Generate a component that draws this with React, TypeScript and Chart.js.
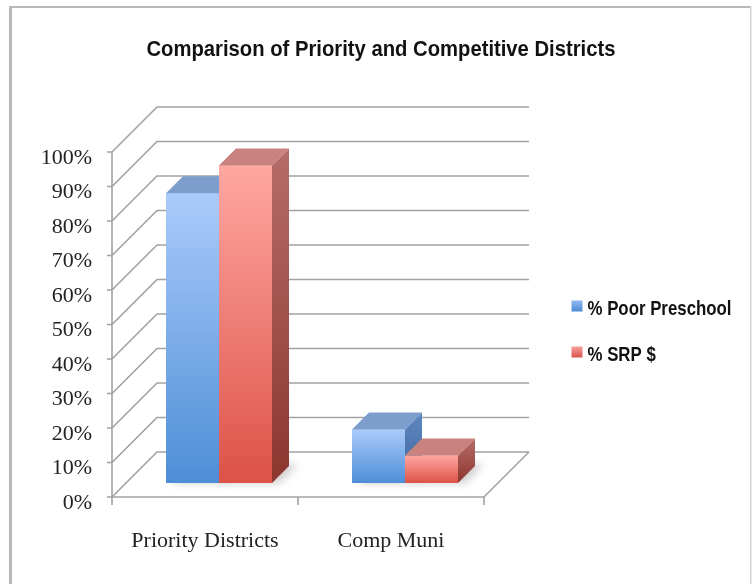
import React, { useEffect, useRef } from "react";
import { Chart, registerables } from "chart.js";

Chart.register(...registerables);

// ---------- data ----------
const TITLE = "Comparison of Priority and Competitive Districts";
const CATEGORIES = ["Priority Districts", "Comp Muni"];
const SERIES_NAMES = ["% Poor Preschool", "% SRP $"];
const POOR_PRESCHOOL = [84, 15.5];
const SRP_DOLLARS = [92, 8];
const Y_MIN = 0;
const Y_MAX = 100;
const Y_STEP = 10;

// ---------- layout / style ----------
const W = 752;
const H = 584;
const AREA = { left: 126, right: 498, top: 138, bottom: 483 };
const FRONT = 14; // depth from the front (axis) plane to the bars' front plane
const BACK = 31; // depth from the bars' front plane to the back wall
const BAR_DEPTH = 17;
const SERIF = "'Liberation Serif', 'Times New Roman', serif";
const SANS = "'Liberation Sans', Arial, sans-serif";

const PALETTE = [
  { front: ["#aacbfa", "#4e8ed7"], top: "#7d9dcc", side: ["#6088c1", "#3c669f"], key: ["#8fb9f0", "#4d8ad3"] },
  { front: ["#ffa7a2", "#dc5246"], top: "#c9827e", side: ["#b66d69", "#8d352f"], key: ["#f7a09a", "#d9544a"] },
];

function fillPoly(ctx: CanvasRenderingContext2D, pts: number[][], fill: any) {
  ctx.beginPath();
  ctx.moveTo(pts[0][0], pts[0][1]);
  for (let i = 1; i < pts.length; i++) ctx.lineTo(pts[i][0], pts[i][1]);
  ctx.closePath();
  ctx.fillStyle = fill;
  ctx.fill();
}

const frontFill = (i: number) => (c: any) => {
  const ch = c.chart;
  const ys = ch.scales && ch.scales.y;
  if (!ys || !ch.chartArea || typeof c.raw !== "number") return PALETTE[i].front[1];
  const top = ys.getPixelForValue(c.raw);
  const base = ys.getPixelForValue(0);
  const g = ch.ctx.createLinearGradient(0, top, 0, base);
  g.addColorStop(0, PALETTE[i].front[0]);
  g.addColorStop(1, PALETTE[i].front[1]);
  return g;
};

const threeD = {
  id: "threeD",
  beforeDraw(chart: any) {
    const ctx = chart.ctx as CanvasRenderingContext2D;
    ctx.save();
    ctx.fillStyle = "#ffffff";
    ctx.fillRect(0, 0, W, H);
    ctx.fillStyle = "#b8b8b8";
    ctx.fillRect(9, 6, 3, H - 6);
    ctx.fillRect(9, 6, W - 11, 2);
    ctx.fillStyle = "#d2d2d2";
    ctx.fillRect(750, 6, 1.5, H - 6);
    ctx.restore();
  },
  beforeDatasetsDraw(chart: any) {
    const ctx = chart.ctx as CanvasRenderingContext2D;
    const ys = chart.scales.y;
    const xs = chart.scales.x;
    const a = chart.chartArea;
    const D = FRONT + BACK;
    const fx0 = a.left - FRONT;
    const fx1 = a.right - FRONT;
    const fy = (v: number) => ys.getPixelForValue(v) + FRONT;

    // soft floor shadows
    ctx.save();
    ctx.filter = "blur(4px)";
    chart.data.datasets.forEach((_: any, i: number) => {
      chart.getDatasetMeta(i).data.forEach((el: any) => {
        const { x, base, width } = el.getProps(["x", "base", "width"], true);
        const L = x - width / 2;
        const R = x + width / 2;
        fillPoly(ctx, [[L + 6, base], [R + 7, base], [R + BAR_DEPTH + 9, base - BAR_DEPTH - 2], [L + BAR_DEPTH + 6, base - BAR_DEPTH - 2]], "rgba(0,0,0,0.2)");
      });
    });
    ctx.restore();

    ctx.save();
    ctx.strokeStyle = "#a2a2a2";
    ctx.lineWidth = 1.6;
    ctx.lineJoin = "miter";
    ctx.beginPath();
    ys.ticks.forEach((t: any) => {
      const y = fy(t.value);
      ctx.moveTo(fx0, y);
      ctx.lineTo(fx0 + D, y - D);
      ctx.lineTo(fx1 + D, y - D);
      ctx.moveTo(fx0 - 5, y);
      ctx.lineTo(fx0, y);
    });
    const f0 = fy(Y_MIN);
    ctx.moveTo(fx0, fy(Y_MAX));
    ctx.lineTo(fx0, f0 + 8);
    ctx.moveTo(fx0, f0);
    ctx.lineTo(fx1, f0);
    ctx.lineTo(fx1 + D, f0 - D);
    for (let i = 1; i <= CATEGORIES.length; i++) {
      const bx = xs.getPixelForValue(i - 0.5) - FRONT;
      ctx.moveTo(bx, f0);
      ctx.lineTo(bx, f0 + 8);
    }
    ctx.stroke();
    ctx.restore();
  },
  afterDatasetsDraw(chart: any) {
    // painter's order: left to right within each category, so right bars hide left bars' sides
    const ctx = chart.ctx as CanvasRenderingContext2D;
    const d = BAR_DEPTH;
    const n = chart.data.labels.length;
    ctx.save();
    for (let j = 0; j < n; j++) {
      chart.data.datasets.forEach((_: any, i: number) => {
        const el = chart.getDatasetMeta(i).data[j];
        if (!el) return;
        const p = PALETTE[i];
        el.draw(ctx, chart.chartArea);
        const { x, y, base, width } = el.getProps(["x", "y", "base", "width"], true);
        const L = x - width / 2;
        const R = x + width / 2;
        const g = ctx.createLinearGradient(0, y - d, 0, base);
        g.addColorStop(0, p.side[0]);
        g.addColorStop(1, p.side[1]);
        fillPoly(ctx, [[R, y], [R + d, y - d], [R + d, base - d], [R, base]], g);
        fillPoly(ctx, [[L, y], [R, y], [R + d, y - d], [L + d, y - d]], p.top);
      });
    }
    ctx.restore();
  },
  afterDraw(chart: any) {
    const ctx = chart.ctx as CanvasRenderingContext2D;
    ctx.save();
    ctx.fillStyle = "#111111";
    ctx.textBaseline = "middle";
    // title
    ctx.font = "bold 22px " + SANS;
    const tw = ctx.measureText(TITLE).width;
    ctx.save();
    ctx.translate(381, 50);
    ctx.scale(469 / tw, 1);
    ctx.textAlign = "center";
    ctx.fillText(TITLE, 0, 0);
    ctx.restore();
    // legend
    ctx.font = "bold 21px " + SANS;
    const lw = ctx.measureText(chart.data.datasets[0].label).width;
    const sx = 144 / lw;
    const rows = [309, 355];
    chart.data.datasets.forEach((ds: any, i: number) => {
      const cy = rows[i];
      const g = ctx.createLinearGradient(0, cy - 8.5, 0, cy + 2.5);
      g.addColorStop(0, PALETTE[i].key[0]);
      g.addColorStop(1, PALETTE[i].key[1]);
      ctx.fillStyle = g;
      ctx.fillRect(571.5, cy - 8.5, 11, 11);
      ctx.save();
      ctx.translate(587.5, cy);
      ctx.scale(sx, 1);
      ctx.textAlign = "left";
      ctx.fillStyle = "#111111";
      ctx.fillText(ds.label, 0, 0);
      ctx.restore();
    });
    ctx.restore();
  },
};

export default function App() {
  const ref = useRef<HTMLCanvasElement | null>(null);
  useEffect(() => {
    if (!ref.current) return;
    const chart = new Chart(ref.current, {
      type: "bar",
      data: {
        labels: CATEGORIES,
        datasets: [
          { label: SERIES_NAMES[0], data: POOR_PRESCHOOL, backgroundColor: frontFill(0), borderWidth: 0 },
          { label: SERIES_NAMES[1], data: SRP_DOLLARS, backgroundColor: frontFill(1), borderWidth: 0 },
        ],
      },
      options: {
        responsive: false,
        animation: false,
        events: [],
        datasets: { bar: { categoryPercentage: 106 / 186, barPercentage: 1 } },
        layout: { padding: { left: 0, right: W - AREA.right, top: AREA.top, bottom: 0 } },
        plugins: {
          legend: { display: false },
          title: { display: false },
          tooltip: { enabled: false },
        },
        scales: {
          x: {
            grid: { display: false, drawTicks: false },
            border: { display: false },
            ticks: {
              font: { family: SERIF, size: 22 },
              color: "#222222",
              padding: 45,
              labelOffset: -FRONT,
              maxRotation: 0,
              autoSkip: false,
            },
            afterFit: (s: any) => {
              s.height = H - AREA.bottom;
            },
          },
          y: {
            min: Y_MIN,
            max: Y_MAX,
            grid: { display: false, drawTicks: false },
            border: { display: false },
            ticks: {
              stepSize: Y_STEP,
              font: { family: SERIF, size: 22 },
              color: "#222222",
              padding: 34,
              labelOffset: FRONT + 6,
              callback: (v: any) => v + "%",
            },
            afterFit: (s: any) => {
              s.width = AREA.left;
            },
          },
        },
      },
      plugins: [threeD],
    } as any);
    return () => chart.destroy();
  }, []);
  return (
    <div style={{ position: "absolute", left: 0, top: 0, width: W, height: H }}>
      <canvas ref={ref} width={W} height={H} style={{ display: "block" }} />
    </div>
  );
}
